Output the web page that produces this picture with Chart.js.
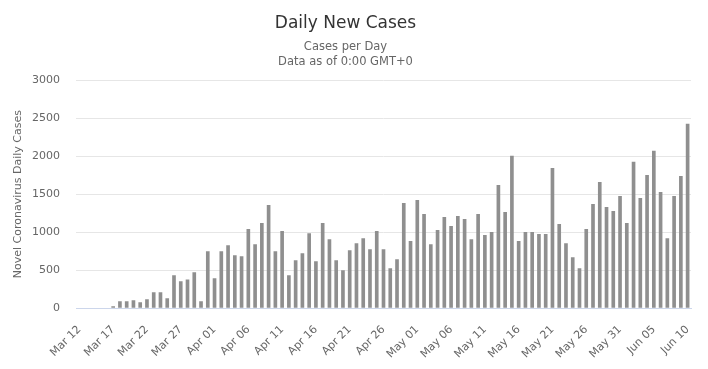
<!DOCTYPE html>
<html>
<head>
<meta charset="utf-8">
<script src="https://cdn.jsdelivr.net/npm/chart.js@4"></script>
<style>
  html, body { margin: 0; padding: 0; background: #fff; }
  #wrap { width: 708px; height: 369px; }
</style>
</head>
<body>
<div id="wrap"><canvas id="myChart"></canvas></div>
<script>
const months = ["Mar", "Apr", "May", "Jun"];
const monthDays = [31, 30, 31, 30];

// daily new cases, Mar 12 .. Jun 10
const dailyCases = [
    0, 0, 0, 0, 0, 18, 84, 84, 97, 70,
    110, 203, 203, 123, 427, 348, 370, 467, 84, 744,
    388, 744, 824, 692, 678, 1035, 837, 1115, 1352, 744,
    1009, 427, 625, 718, 982, 612, 1115, 903, 625, 493,
    758, 850, 916, 771, 1009, 771, 520, 639, 1379, 877,
    1418, 1233, 837, 1022, 1194, 1075, 1207, 1167, 903, 1233,
    956, 996, 1617, 1260, 2000, 877, 996, 996, 969, 969,
    1841, 1101, 850, 665, 520, 1035, 1366, 1656, 1326, 1273,
    1471, 1115, 1921, 1445, 1749, 2066, 1524, 916, 1471, 1736,
    2423
];

const yTicks = [0, 500, 1000, 1500, 2000, 2500, 3000];

// build "Mar 12" style labels, one per day
const dayLabels = [];
let m = 0, d = 12;
for (let i = 0; i < dailyCases.length; i++) {
    dayLabels.push(months[m] + " " + String(d).padStart(2, "0"));
    d++;
    if (d > monthDays[m]) { d = 1; m++; }
}

const FONT = "'DejaVu Sans', Verdana, sans-serif";
const ctx = document.getElementById('myChart').getContext('2d');

const myChart = new Chart(ctx, {
    type: 'bar',
    data: {
        labels: dayLabels,
        datasets: [{
            label: 'Daily Cases',
            data: dailyCases,
            backgroundColor: '#8f8f8f',
            barThickness: 3,
            // no sliver for the zero days
            inflateAmount: c => (c.raw === 0 ? 0 : 'auto')
        }]
    },
    options: {
        responsive: true,
        maintainAspectRatio: false,
        animation: false,
        layout: { padding: { right: 17, top: 0, left: 0, bottom: 0 } },
        plugins: {
            legend: { display: false },
            tooltip: { enabled: false },
            title: {
                display: true,
                text: 'Daily New Cases',
                color: '#333333',
                font: { family: FONT, size: 17, weight: 'normal', lineHeight: 1.2 },
                padding: { top: 13, bottom: 6 }
            },
            subtitle: {
                display: true,
                text: ['Cases per Day', 'Data as of 0:00 GMT+0'],
                color: '#666666',
                font: { family: FONT, size: 11.5, lineHeight: 1.3 },
                padding: { top: 0, bottom: 11 }
            }
        },
        scales: {
            x: {
                z: 1,
                grid: { display: false },
                border: { color: '#ccd6eb', width: 1 },
                afterFit: scale => { scale.height = 61; },
                ticks: {
                    autoSkip: false,
                    minRotation: 45,
                    maxRotation: 45,
                    padding: 7,
                    color: '#666666',
                    font: { family: FONT, size: 11 },
                    callback: function (value, index) {
                        return index % 5 === 0 ? this.getLabelForValue(value) : '';
                    }
                }
            },
            y: {
                min: 0,
                max: 3000,
                afterBuildTicks: scale => { scale.ticks = yTicks.map(v => ({ value: v })); },
                afterFit: scale => { scale.width = 76; },
                grid: { color: '#e6e6e6', drawTicks: false },
                border: { display: false },
                ticks: {
                    padding: 16,
                    color: '#666666',
                    font: { family: FONT, size: 11 },
                    callback: v => String(v)
                },
                title: {
                    display: true,
                    text: 'Novel Coronavirus Daily Cases',
                    color: '#666666',
                    font: { family: FONT, size: 11 },
                    padding: { top: 12, bottom: 0 }
                }
            }
        }
    }
});
</script>
</body>
</html>
